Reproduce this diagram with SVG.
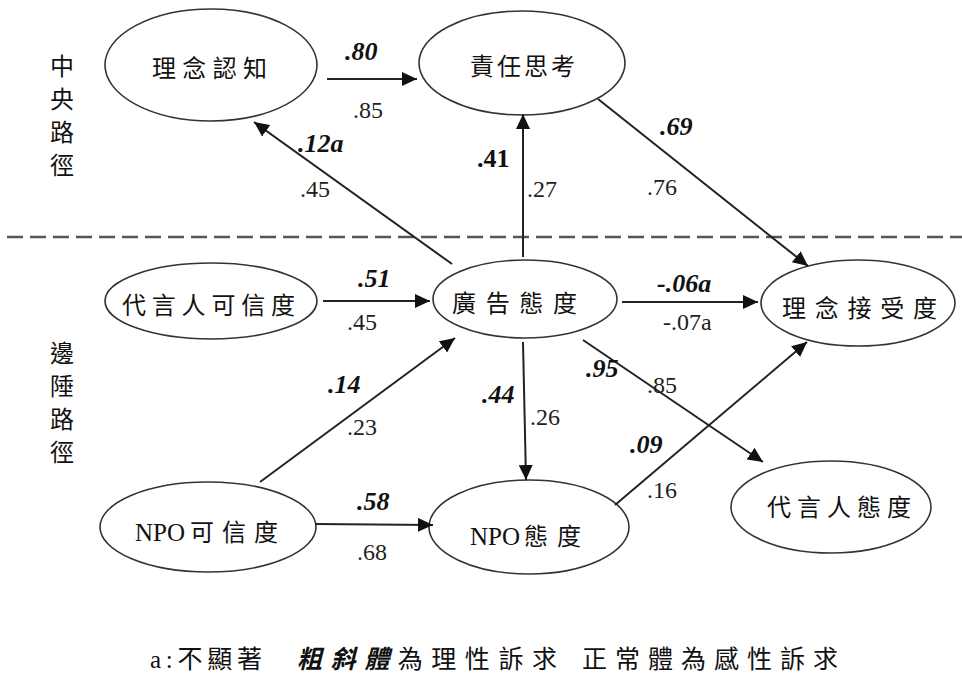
<svg xmlns="http://www.w3.org/2000/svg" width="962" height="675" viewBox="0 0 962 675">
<defs>
<marker id="ah" markerUnits="userSpaceOnUse" markerWidth="16" markerHeight="14" refX="15" refY="7" orient="auto">
<path d="M0,0 L15,7 L0,14 z" fill="#111"/>
</marker>
<style>
.n ellipse{fill:#fff;stroke:#333;stroke-width:1.6}
.lbl{font-family:"Liberation Serif","Times New Roman","DejaVu Serif","Noto Sans CJK TC",serif;font-size:24px;fill:#111}
.side{font-family:"Noto Sans CJK TC",sans-serif;font-size:24px;fill:#111;text-anchor:middle}
.c line{stroke:#222;stroke-width:2;marker-end:url(#ah)}
.b{font-family:"Liberation Serif","Times New Roman","DejaVu Serif",serif;font-size:26px;font-weight:bold;font-style:italic;fill:#111}
.bu{font-family:"Liberation Serif","Times New Roman","DejaVu Serif",serif;font-size:26px;font-weight:bold;fill:#111}
.r{font-family:"Liberation Serif","Times New Roman","DejaVu Serif",serif;font-size:24px;fill:#222}
.foot{font-family:"Liberation Serif","Times New Roman","Noto Sans CJK TC",serif;font-size:25px;fill:#111}
</style>
</defs>
<rect width="962" height="675" fill="#fff"/>
<line x1="7" y1="237" x2="962" y2="237" stroke="#555" stroke-width="2.5" stroke-dasharray="16 7"/>
<g class="side">
<text x="62" y="75">中</text><text x="62" y="108">央</text><text x="62" y="141">路</text><text x="62" y="174">徑</text>
<text x="62" y="362">邊</text><text x="62" y="395">陲</text><text x="62" y="428">路</text><text x="62" y="461">徑</text>
</g>
<g id="n1" class="n"><ellipse cx="211" cy="65" rx="106" ry="56"/><text class="lbl" x="152" y="77" textLength="115" lengthAdjust="spacing">理念認知</text></g>
<g id="n2" class="n"><ellipse cx="522" cy="63" rx="103" ry="52"/><text class="lbl" x="470" y="75" textLength="105" lengthAdjust="spacing">責任思考</text></g>
<g id="n3" class="n"><ellipse cx="211" cy="301" rx="106" ry="38"/><text class="lbl" x="122" y="314" textLength="173" lengthAdjust="spacing">代言人可信度</text></g>
<g id="n4" class="n"><ellipse cx="525" cy="299" rx="92" ry="39"/><text class="lbl" x="452" y="312" textLength="125" lengthAdjust="spacing">廣告態度</text></g>
<g id="n5" class="n"><ellipse cx="858" cy="303" rx="97" ry="43"/><text class="lbl" x="782" y="317" textLength="155" lengthAdjust="spacing">理念接受度</text></g>
<g id="n6" class="n"><ellipse cx="208" cy="527" rx="108" ry="45"/><text class="lbl" x="135" y="541"><tspan font-size="25">NPO</tspan><tspan x="190" letter-spacing="8">可信度</tspan></text></g>
<g id="n7" class="n"><ellipse cx="529" cy="527" rx="100" ry="47"/><text class="lbl" x="470" y="545"><tspan font-size="25">NPO</tspan><tspan x="524" letter-spacing="9">態度</tspan></text></g>
<g id="n8" class="n"><ellipse cx="831" cy="507" rx="100" ry="46"/><text class="lbl" x="767" y="516" textLength="144" lengthAdjust="spacing">代言人態度</text></g>
<g id="connectors" class="c">
<line x1="327" y1="79" x2="417" y2="79"/>
<line x1="452" y1="264" x2="254" y2="122"/>
<line x1="523" y1="257" x2="523" y2="114"/>
<line x1="598" y1="99" x2="808" y2="266"/>
<line x1="323" y1="301" x2="430" y2="301"/>
<line x1="622" y1="302" x2="758" y2="302"/>
<line x1="260" y1="482" x2="455" y2="338"/>
<line x1="523" y1="342" x2="526" y2="480"/>
<line x1="583" y1="340" x2="763" y2="462"/>
<line x1="615" y1="505" x2="807" y2="342"/>
<line x1="315" y1="524" x2="433" y2="525"/>
</g>
<g id="labels">
<text class="b" x="345" y="60">.80</text>
<text class="r" x="353" y="118">.85</text>
<text class="b" x="298" y="152">.12a</text>
<text class="r" x="300" y="197">.45</text>
<text class="bu" x="477" y="167">.41</text>
<text class="r" x="527" y="197">.27</text>
<text class="b" x="660" y="135">.69</text>
<text class="r" x="647" y="195">.76</text>
<text class="b" x="358" y="287">.51</text>
<text class="r" x="347" y="330">.45</text>
<text class="b" x="657" y="292">-.06a</text>
<text class="r" x="663" y="330">-.07a</text>
<text class="b" x="328" y="393">.14</text>
<text class="r" x="347" y="435">.23</text>
<text class="b" x="482" y="403">.44</text>
<text class="r" x="530" y="425">.26</text>
<text class="b" x="586" y="377">.95</text>
<text class="r" x="647" y="393">.85</text>
<text class="b" x="630" y="453">.09</text>
<text class="r" x="647" y="498">.16</text>
<text class="b" x="357" y="510">.58</text>
<text class="r" x="357" y="560">.68</text>
</g>
<g id="footer" class="foot">
<text x="150" y="668" textLength="112" lengthAdjust="spacing">a:不顯著</text>
<text x="297" y="668" textLength="260" lengthAdjust="spacing"><tspan font-weight="bold" font-style="italic">粗斜體</tspan>為理性訴求</text>
<text x="582" y="668" textLength="256" lengthAdjust="spacing">正常體為感性訴求</text>
</g>
</svg>
